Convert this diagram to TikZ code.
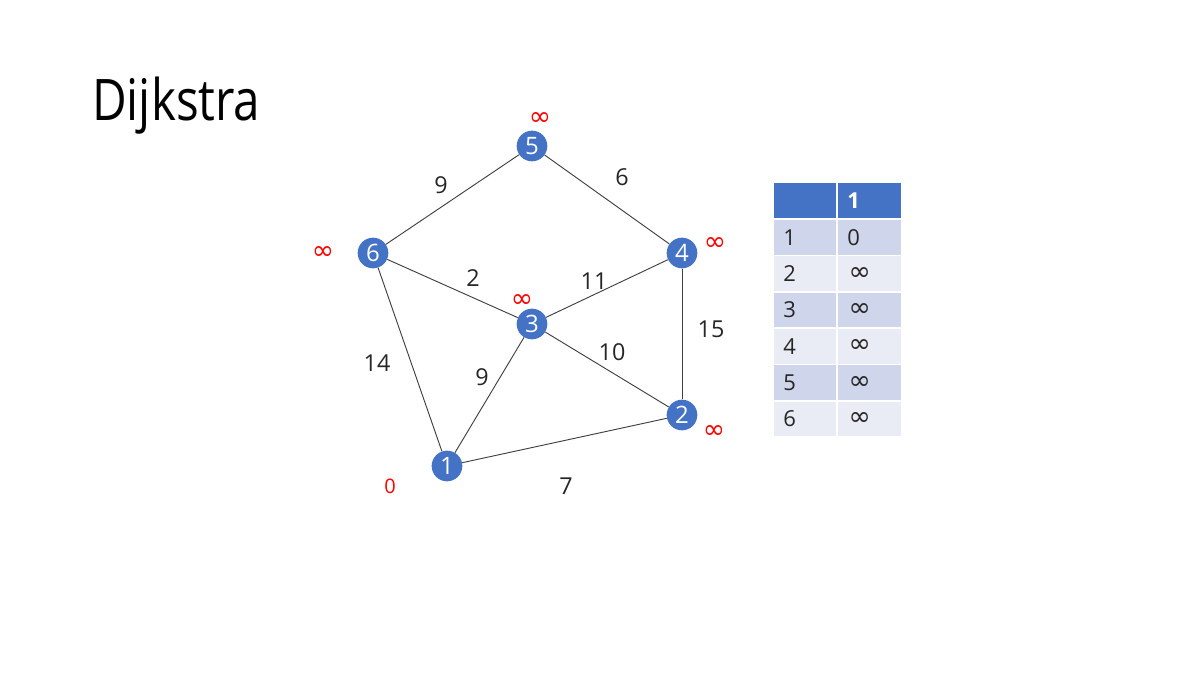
\documentclass[tikz,border=0pt]{standalone}
\usepackage{fontspec}
\setmainfont{Open Sans}
\newfontfamily\symfont{DejaVu Sans}
\newcommand{\infsym}{{\symfont\fontsize{20}{20}\selectfont ∞}}
\definecolor{nodeblue}{HTML}{4472C4}
\definecolor{rowA}{HTML}{CFD5EA}
\definecolor{rowB}{HTML}{E9EBF5}
\definecolor{txt}{HTML}{262626}
\definecolor{edgec}{HTML}{404040}
\definecolor{inf}{HTML}{FF0000}
\tikzset{
  vtx/.style={circle, fill=nodeblue, minimum size=23pt, inner sep=0pt, text=white, font=\fontsize{18}{18}\selectfont},
  edge/.style={draw=edgec, line width=0.7pt},
  wlab/.style={text=txt, font=\fontsize{17.5}{17.5}\selectfont, inner sep=0pt},
  dlab/.style={text=inf, font=\fontsize{15}{15}\selectfont, inner sep=0pt},
  cellbase/.style={minimum height=26pt, inner ysep=0pt, inner xsep=7pt, align=left, text=txt, font=\fontsize{16.5}{16.5}\selectfont},
  cA/.style={cellbase, text width=32.5pt},
  cB/.style={cellbase, text width=33.25pt},
}
\begin{document}
\begin{tikzpicture}[x=0.75pt, y=-0.75pt]
\useasboundingbox (0,0) rectangle (1200,675);
% title
\node[anchor=base west, inner sep=0pt, text=black, font=\fontsize{43}{43}\selectfont] (title) at (92,120) {\scalebox{0.83}[1]{Dijkstra}};
% vertices
\node[vtx] (n5) at (532,146) {5};
\node[vtx] (n6) at (373,253) {6};
\node[vtx] (n4) at (682,253) {4};
\node[vtx] (n3) at (532,324) {3};
\node[vtx] (n2) at (682,415) {2};
\node[vtx] (n1) at (447,466) {1};
% edges
\draw[edge] (n5) -- (n6);
\draw[edge] (n5) -- (n4);
\draw[edge] (n6) -- (n3);
\draw[edge] (n6) -- (n1);
\draw[edge] (n3) -- (n4);
\draw[edge] (n3) -- (n1);
\draw[edge] (n3) -- (n2);
\draw[edge] (n4) -- (n2);
\draw[edge] (n1) -- (n2);
% weights
\node[wlab] (w56) at (441,185) {9};
\node[wlab] (w54) at (622,177) {6};
\node[wlab] (w63) at (473,278) {2};
\node[wlab] (w34) at (594,281) {11};
\node[wlab] (w42) at (711,329) {15};
\node[wlab] (w32) at (612,352) {10};
\node[wlab] (w61) at (377,363) {14};
\node[wlab] (w31) at (482,377) {9};
\node[wlab] (w12) at (566,486) {7};
% distances
\node[dlab] (d5) at (540,119) {\infsym};
\node[dlab] (d6) at (323,253) {\infsym};
\node[dlab] (d4) at (715,244) {\infsym};
\node[dlab] (d3) at (522,301) {\infsym};
\node[dlab] (d2) at (714,432) {\infsym};
\node[dlab] (d1) at (390,486) {0};
% table
\node[cA, fill=nodeblue] (h1) at (805,200.5) {};
\node[cB, fill=nodeblue, text=white, font=\fontsize{16.5}{16.5}\selectfont\bfseries] (h2) at (869.5,200.5) {1};
\node[cA, fill=rowA] (r1a) at (805,237.5) {1};
\node[cB, fill=rowA] (r1b) at (869.5,237.5) {0};
\node[cA, fill=rowB] (r2a) at (805,273.8) {2};
\node[cB, fill=rowB] (r2b) at (869.5,273.8) {\hspace*{1pt}\infsym};
\node[cA, fill=rowA] (r3a) at (805,310.1) {3};
\node[cB, fill=rowA] (r3b) at (869.5,310.1) {\hspace*{1pt}\infsym};
\node[cA, fill=rowB] (r4a) at (805,346.4) {4};
\node[cB, fill=rowB] (r4b) at (869.5,346.4) {\hspace*{1pt}\infsym};
\node[cA, fill=rowA] (r5a) at (805,382.7) {5};
\node[cB, fill=rowA] (r5b) at (869.5,382.7) {\hspace*{1pt}\infsym};
\node[cA, fill=rowB] (r6a) at (805,419) {6};
\node[cB, fill=rowB] (r6b) at (869.5,419) {\hspace*{1pt}\infsym};
\end{tikzpicture}
\end{document}
